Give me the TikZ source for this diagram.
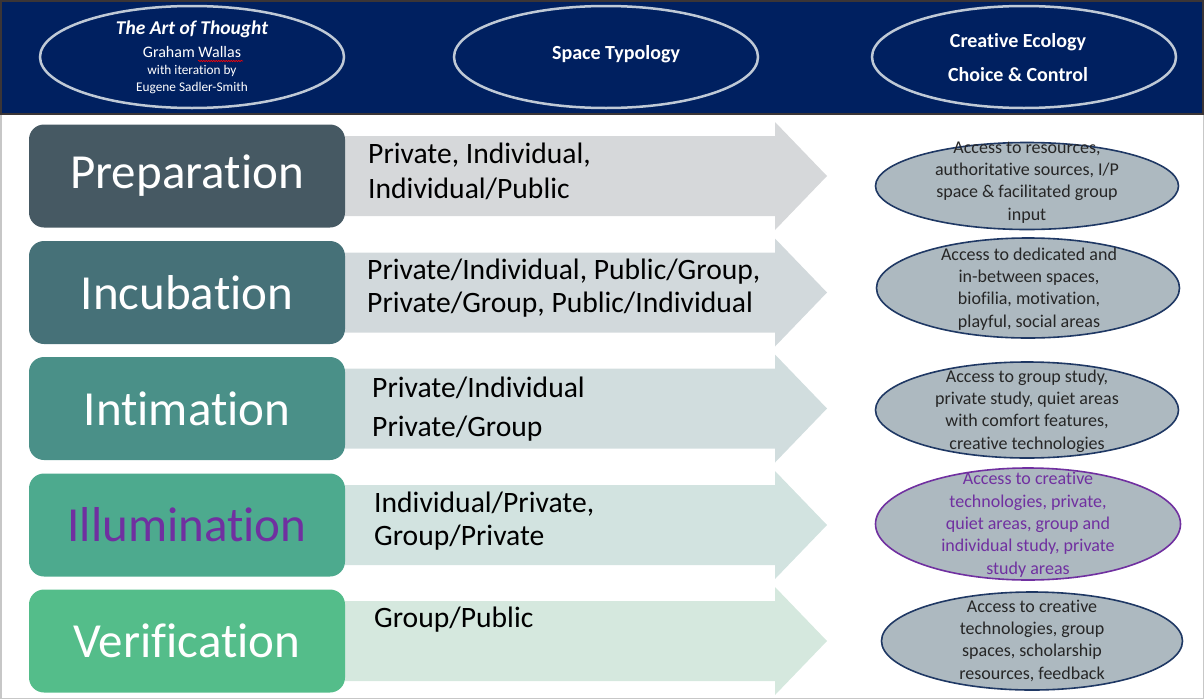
\documentclass[tikz,border=0pt]{standalone}
\usepackage{fontspec}
\setmainfont{Carlito}[Ligatures=NoCommon]
\usetikzlibrary{shapes.geometric, decorations.pathmorphing}

\definecolor{headblue}{HTML}{002060}
\definecolor{headframe}{RGB}{59,53,54}
\definecolor{ringgrey}{RGB}{191,201,214}
\definecolor{prepcol}{RGB}{70,89,99}
\definecolor{incucol}{RGB}{70,113,120}
\definecolor{intimcol}{RGB}{74,144,136}
\definecolor{illumcol}{RGB}{77,170,142}
\definecolor{verifcol}{RGB}{84,189,138}
\definecolor{arrowone}{RGB}{214,216,218}
\definecolor{arrowtwo}{RGB}{210,217,220}
\definecolor{arrowthree}{RGB}{209,221,222}
\definecolor{arrowfour}{RGB}{210,227,224}
\definecolor{arrowfive}{RGB}{213,232,222}
\definecolor{ecogrey}{RGB}{173,185,192}
\definecolor{ringblue}{HTML}{1F3864}
\definecolor{illumpurple}{HTML}{7030A0}

% one grey arrow per stage, centred on y = #1
\newcommand{\spacearrow}[2]{%
  \fill[#2] (345,#1-40) -- (775,#1-40) -- (775,#1-54) -- (827,#1)
            -- (775,#1+54) -- (775,#1+40) -- (345,#1+40) -- cycle;}

\tikzset{
  headring/.style = {ellipse, draw=ringgrey, line width=2.5pt,
                     minimum width=304pt, minimum height=102pt, inner sep=0pt},
  headtext/.style = {anchor=base, align=center, inner sep=0pt, text=white},
  stagebox/.style = {rounded corners=15pt, minimum width=316pt, minimum height=103pt,
                     inner sep=0pt, text=white, font=\fontsize{49}{59}\selectfont},
  spacetext/.style = {anchor=base west, align=left, inner sep=0pt},
  ecoring/.style = {ellipse, draw=ringblue, line width=1.6pt, fill=ecogrey,
                    minimum width=303pt, inner sep=0pt},
  ecotext/.style = {anchor=base, align=center, inner sep=0pt, text=black!85,
                    font=\fontsize{18}{22.3}\selectfont},
}

\begin{document}
\begin{tikzpicture}[x=1pt, y=-1pt]
  \useasboundingbox (0,0) rectangle (1204,699);
  \draw[black!22, line width=1.5pt] (0.75,0.75) rectangle (1203.25,698.25);

  % header band
  \filldraw[fill=headblue, draw=headframe, line width=2pt] (1,1) rectangle (1203,114);
  \node (artring) [headring] at (192,57) {};
  \node (spacering) [headring] at (606,57) {};
  \node (ecoring) [headring] at (1024,57) {};

  % base of a multi-line node = baseline of its last line
  \node (arttext) [headtext, font=\fontsize{13.3}{16.8}\selectfont] at (192,91)
        {{\bfseries\itshape\fontsize{19.5}{23}\selectfont The Art of Thought}\\[6pt]
         {\fontsize{16}{19}\selectfont Graham Wallas}\\
         with iteration by\\
         Eugene Sadler-Smith};
  \coordinate (wavystart) at (198,61);
  \coordinate (wavyend) at (243,61);
  \draw[red, line width=0.6pt, decorate,
        decoration={snake, amplitude=0.7pt, segment length=2.5pt}] (wavystart) -- (wavyend);
  \node (spacetitle) [headtext, font=\bfseries\fontsize{20}{34}\selectfont] at (616,59)
        {Space Typology};
  \node (ecotitle) [headtext, font=\bfseries\fontsize{20}{34}\selectfont] at (1018,81)
        {Creative Ecology\\Choice \& Control};

  % arrows behind the stage boxes
  \spacearrow{176}{arrowone}
  \spacearrow{292.5}{arrowtwo}
  \spacearrow{408.5}{arrowthree}
  \spacearrow{525}{arrowfour}
  \spacearrow{641}{arrowfive}

  % stages
  \node (prep) [stagebox, fill=prepcol] at (187,176) {Preparation};
  \node (incu) [stagebox, fill=incucol] at (187,292.5) {Incubation};
  \node (intim) [stagebox, fill=intimcol] at (187,408.5) {Intimation};
  \node (illum) [stagebox, fill=illumcol, text=illumpurple] at (187,525) {Illumination};
  \node (verif) [stagebox, fill=verifcol] at (187,641) {Verification};

  % space typology
  \node (prepspace) [spacetext, font=\fontsize{29.6}{35}\selectfont] at (368,198)
        {Private, Individual,\\Individual/Public};
  \node (incuspace) [spacetext, font=\fontsize{29.6}{33}\selectfont] at (367,312)
        {Private/Individual, Public/Group,\\Private/Group, Public/Individual};
  \node (intimspace) [spacetext, font=\fontsize{29.6}{39}\selectfont] at (372,436)
        {Private/Individual\\Private/Group};
  \node (illumspace) [spacetext, font=\fontsize{29.6}{33}\selectfont] at (374,545)
        {Individual/Private,\\Group/Private};
  \node (verifspace) [spacetext, font=\fontsize{29.6}{33}\selectfont] at (374,627)
        {Group/Public};

  % creative ecology
  \node (prepeco) [ecoring, minimum height=87pt] at (1027,186) {};
  \node (incueco) [ecoring, minimum height=100pt] at (1028,288) {};
  \node (intimeco) [ecoring, minimum height=96pt] at (1027,410) {};
  \node (illumeco) [ecoring, minimum height=112pt, minimum width=305pt,
                    draw=illumpurple] at (1028,524) {};
  \node (verifeco) [ecoring, minimum height=98pt, minimum width=301pt] at (1032,641) {};

  \node (prepecotext) [ecotext] at (1027,220)
        {Access to resources,\\authoritative sources, I/P\\space \& facilitated group\\input};
  \node (incuecotext) [ecotext] at (1029,327)
        {Access to dedicated and\\in-between spaces,\\biofilia, motivation,\\playful, social areas};
  \node (intimecotext) [ecotext] at (1027,449)
        {Access to group study,\\private study, quiet areas\\with comfort features,\\creative technologies};
  \node (illumecotext) [ecotext, text=illumpurple] at (1028,574)
        {Access to creative\\technologies, private,\\quiet areas, group and\\individual study, private\\study areas};
  \node (verifecotext) [ecotext] at (1032,679)
        {Access to creative\\technologies, group\\spaces, scholarship\\resources, feedback};
\end{tikzpicture}
\end{document}
